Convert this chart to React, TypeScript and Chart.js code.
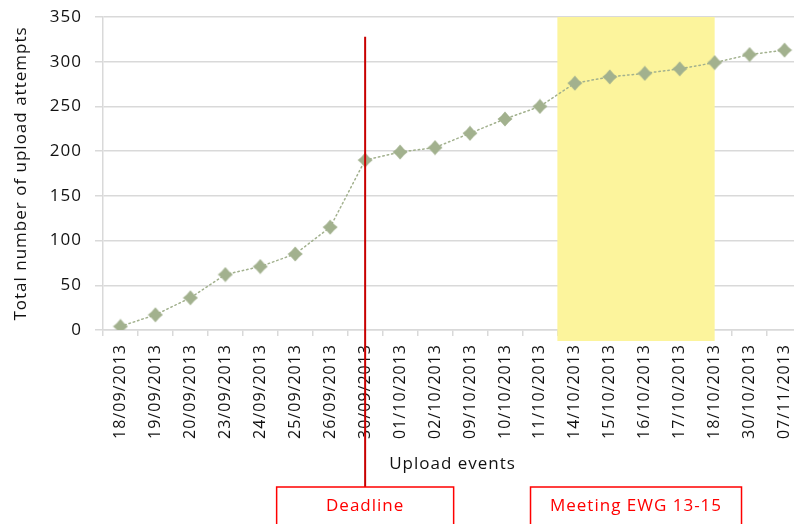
import React, { useEffect, useRef } from 'react';
import { Chart, registerables } from 'chart.js';

Chart.register(...registerables);

const categories = [
  '18/09/2013', '19/09/2013', '20/09/2013', '23/09/2013', '24/09/2013',
  '25/09/2013', '26/09/2013', '30/09/2013', '01/10/2013', '02/10/2013',
  '09/10/2013', '10/10/2013', '11/10/2013', '14/10/2013', '15/10/2013',
  '16/10/2013', '17/10/2013', '18/10/2013', '30/10/2013', '07/11/2013',
];
const uploadAttempts = [4, 17, 36, 62, 71, 85, 115, 190, 199, 204, 220, 236, 250, 276, 283, 287, 292, 299, 308, 313];
const yMin = 0;
const yMax = 350;
const yStep = 50;
const yTitle = 'Total number of upload attempts';
const xTitle = 'Upload events';
const deadlineCategory = '30/09/2013';
const deadlineLabel = 'Deadline';
const meetingFirst = '14/10/2013';
const meetingLast = '18/10/2013';
const meetingLabel = 'Meeting EWG 13-15';

const FONT = '"Open Sans", "DejaVu Sans", sans-serif';
const MARKER = '#A2B18E';
const W = 812;
const H = 524;

function makeMarker(): HTMLCanvasElement {
  const s = 16;
  const m = document.createElement('canvas');
  m.width = s;
  m.height = s;
  const c = m.getContext('2d')!;
  const h = s / 2;
  const k = 3.2;
  c.fillStyle = MARKER;
  c.beginPath();
  c.moveTo(h, 0.5);
  c.quadraticCurveTo(h + k, h - k, s - 0.5, h);
  c.quadraticCurveTo(h + k, h + k, h, s - 0.5);
  c.quadraticCurveTo(h - k, h + k, 0.5, h);
  c.quadraticCurveTo(h - k, h - k, h, 0.5);
  c.closePath();
  c.fill();
  return m;
}

function setSpacing(chart: any) {
  if (chart && chart.ctx) chart.ctx.letterSpacing = '1px';
}

const annotationPlugin = {
  id: 'annotations',
  beforeInit: setSpacing,
  beforeUpdate: setSpacing,
  beforeLayout: setSpacing,
  beforeDraw: setSpacing,
  beforeDatasetsDraw(chart: any) {
    const { ctx, chartArea, scales } = chart;
    const x = scales.x;
    const left = x.getPixelForValue(categories.indexOf(meetingFirst) - 0.5);
    const right = x.getPixelForValue(categories.indexOf(meetingLast));
    ctx.save();
    ctx.fillStyle = 'rgb(252,244,156)';
    ctx.fillRect(left, chartArea.top, right - left, chartArea.bottom + 11 - chartArea.top);
    ctx.restore();
  },
  afterDatasetsDraw(chart: any) {
    const { ctx, chartArea, scales } = chart;
    const x = scales.x;
    const y = scales.y;
    const boxTop = chartArea.bottom + 157;
    const boxH = 50;
    const textY = boxTop + 19;

    const dx = x.getPixelForValue(categories.indexOf(deadlineCategory));
    ctx.save();
    ctx.strokeStyle = '#C80000';
    ctx.lineWidth = 2;
    ctx.beginPath();
    ctx.moveTo(dx, y.getPixelForValue(328));
    ctx.lineTo(dx, boxTop);
    ctx.stroke();

    ctx.strokeStyle = '#FF0000';
    ctx.lineWidth = 1.5;
    ctx.font = `17px ${FONT}`;
    ctx.fillStyle = '#FF0000';
    ctx.textAlign = 'center';
    ctx.textBaseline = 'middle';

    const dW = 177;
    ctx.strokeRect(dx - dW / 2, boxTop, dW, boxH);
    ctx.fillText(deadlineLabel, dx, textY);

    const mLeft = x.getPixelForValue(categories.indexOf(meetingFirst) - 0.5);
    const mRight = x.getPixelForValue(categories.indexOf(meetingLast));
    const mc = (mLeft + mRight) / 2;
    const mW = 211;
    ctx.strokeRect(mc - mW / 2, boxTop, mW, boxH);
    ctx.fillText(meetingLabel, mc, textY);
    ctx.restore();
  },
};

export default function App() {
  const ref = useRef<HTMLCanvasElement>(null);

  useEffect(() => {
    document.body.style.overflow = 'hidden';
    const canvas = ref.current!;
    const marker = makeMarker();
    const chart = new Chart(canvas, {
      type: 'line',
      data: {
        labels: categories,
        datasets: [
          {
            data: uploadAttempts,
            borderColor: MARKER,
            borderWidth: 1.5,
            borderDash: [1.5, 3],
            borderCapStyle: 'round',
            pointStyle: marker as any,
            pointRadius: 8,
            pointBackgroundColor: MARKER,
            pointBorderColor: MARKER,
            tension: 0,
            fill: false,
          },
        ],
      },
      options: {
        responsive: false,
        animation: false,
        devicePixelRatio: 1,
        layout: { padding: { top: 17, right: 2, bottom: 50, left: 0 } },
        plugins: {
          legend: { display: false },
          tooltip: { enabled: false },
        },
        scales: {
          x: {
            type: 'category',
            offset: true,
            grid: {
              display: true,
              drawOnChartArea: false,
              drawTicks: true,
              tickLength: 6,
              offset: true,
              color: '#d9d9d9',
              lineWidth: 1.5,
            },
            border: { display: true, color: '#d9d9d9', width: 1.5 },
            ticks: {
              autoSkip: false,
              maxRotation: 90,
              minRotation: 90,
              padding: 8,
              color: '#111',
              font: { family: FONT, size: 16 },
            },
            title: {
              display: true,
              text: xTitle,
              color: '#111',
              font: { family: FONT, size: 17 },
              padding: { top: 0, bottom: 0 },
            },
            afterFit: (scale: any) => {
              scale.height = 144;
            },
          },
          y: {
            min: yMin,
            max: yMax,
            grid: {
              color: '#d9d9d9',
              lineWidth: 1.5,
              drawTicks: true,
              tickLength: 8,
            },
            border: { display: true, color: '#d9d9d9', width: 1.5 },
            ticks: {
              stepSize: yStep,
              padding: 13,
              color: '#111',
              font: { family: FONT, size: 17 },
            },
            title: {
              display: true,
              text: yTitle,
              color: '#111',
              font: { family: FONT, size: 17 },
              padding: { top: 11, bottom: 0 },
            },
            afterFit: (scale: any) => {
              scale.width = 103;
              scale.paddingTop = 0;
              scale.paddingBottom = 0;
            },
          },
        },
      },
      plugins: [annotationPlugin],
    });
    return () => chart.destroy();
  }, []);

  return (
    <div style={{ position: 'fixed', left: 0, top: 0, width: W, height: H, background: '#fff' }}>
      <canvas ref={ref} width={W} height={H} style={{ display: 'block', width: W, height: H }} />
    </div>
  );
}
